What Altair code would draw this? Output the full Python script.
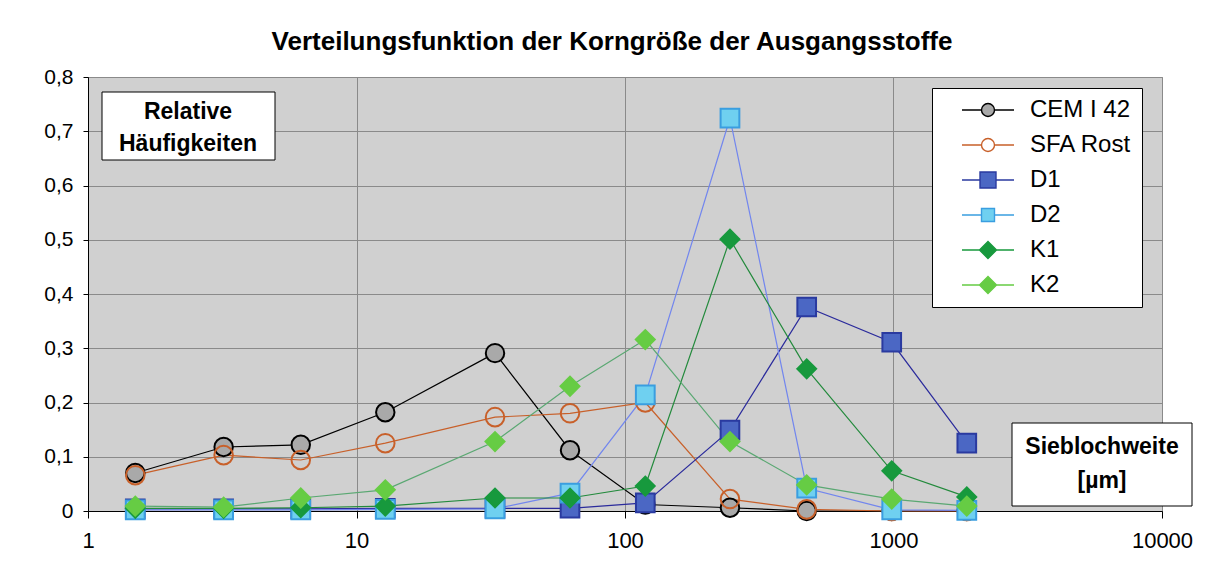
import altair as alt
import pandas as pd

# ---- data ----
sizes = [1.5, 3.2, 6.2, 12.8, 32.8, 62.4, 119, 246, 475, 985, 1875]
series = ["CEM I 42", "SFA Rost", "D1", "D2", "K1", "K2"]
cem = [0.07, 0.118, 0.122, 0.182, 0.291, 0.112, 0.012, 0.006, 0.0, 0.0, 0.0]
sfa = [0.066, 0.103, 0.094, 0.125, 0.173, 0.180, 0.200, 0.022, 0.003, 0.0, 0.0]
d1 = [0.004, 0.004, 0.004, 0.005, 0.005, 0.005, 0.015, 0.149, 0.376, 0.311, 0.125]
d2 = [0.002, 0.002, 0.002, 0.003, 0.004, 0.033, 0.214, 0.724, 0.042, 0.002, 0.001]
k1 = [0.005, 0.005, 0.006, 0.009, 0.024, 0.024, 0.046, 0.501, 0.262, 0.074, 0.026]
k2 = [0.009, 0.007, 0.024, 0.039, 0.128, 0.230, 0.316, 0.128, 0.048, 0.022, 0.009]
values = [cem, sfa, d1, d2, k1, k2]

y_ticks = [0.0, 0.1, 0.2, 0.3, 0.4, 0.5, 0.6, 0.7, 0.8]
x_ticks = [1, 10, 100, 1000, 10000]

title_text = "Verteilungsfunktion der Korngröße der Ausgangsstoffe"
y_label_lines = ["Relative", "Häufigkeiten"]
x_label_lines = ["Sieblochweite", "[µm]"]

# ---- styles ----
line_colors = ["#000000", "#c8602a", "#2b2b9c", "#7286ee", "#238a3c", "#5aa872"]
marker_fill = ["#a9a9a9", "transparent", "#4b67c4", "#6fd0f0", "#17993d", "#66cc44"]
marker_stroke = ["#000000", "#c8602a", "#2a3aa0", "#3a9ee0", "#17993d", "#66cc44"]
marker_shape = ["circle", "circle", "square", "square", "diamond", "diamond"]
marker_size = [340, 360, 470, 170, 380, 480]

circ = "M-0.65,0A0.65,0.65,0,1,1,0.65,0A0.65,0.65,0,1,1,-0.65,0Z"
legend_paths = [
    "M-2.6,0H-0.65M0.65,0H2.6" + circ,
    "M-2.6,0H-0.65M0.65,0H2.6" + circ,
    "M-2.6,0H-0.8M0.8,0H2.6M-0.8,-0.8H0.8V0.8H-0.8Z",
    "M-2.6,0H-0.65M0.65,0H2.6M-0.65,-0.65H0.65V0.65H-0.65Z",
    "M-2.6,0H-0.85M0.85,0H2.6M0,-0.85L0.85,0L0,0.85L-0.85,0Z",
    "M-2.6,0H-0.85M0.85,0H2.6M0,-0.85L0.85,0L0,0.85L-0.85,0Z",
]

rows = []
for i, (name, vals) in enumerate(zip(series, values)):
    for j, (x, v) in enumerate(zip(sizes, vals)):
        rows.append({"Serie": name, "order": i, "idx": j, "x": x, "y": v})
df = pd.DataFrame(rows)

FONT = "Liberation Sans"
W, H = 1074, 434

xenc = alt.X("x:Q", scale=alt.Scale(type="log", domain=[1, 10000], nice=False),
             axis=alt.Axis(values=x_ticks, labelExpr="format(datum.value, 'd')", title=None,
                           grid=True, gridColor="#8a8a8a", gridWidth=1,
                           domainColor="#000000", tickColor="#000000", tickSize=7,
                           labelFontSize=22, labelFont=FONT, labelColor="#000000",
                           labelPadding=12, labelFlush=False))
yenc = alt.Y("y:Q", scale=alt.Scale(domain=[0, 0.8], nice=False, zero=True),
             axis=alt.Axis(values=y_ticks,
                           labelExpr="datum.value == 0 ? '0' : replace(format(datum.value, '.1f'), '.', ',')",
                           title=None, grid=True, gridColor="#8a8a8a", gridWidth=1,
                           domainColor="#000000", tickColor="#000000", tickSize=5,
                           labelFontSize=21, labelFont=FONT, labelColor="#000000",
                           labelPadding=10))

base = alt.Chart(df)

lines = base.mark_line(strokeWidth=1.2).encode(
    x=xenc, y=yenc,
    stroke=alt.Stroke("Serie:N", scale=alt.Scale(domain=series, range=line_colors), legend=None),
    detail="Serie:N",
    order="idx:Q",
)

points = base.mark_point(strokeWidth=2, opacity=1).encode(
    x=xenc, y=yenc,
    shape=alt.Shape("Serie:N", scale=alt.Scale(domain=series, range=marker_shape), legend=None),
    fill=alt.Fill("Serie:N", scale=alt.Scale(domain=series, range=marker_fill), legend=None),
    stroke=alt.Stroke("Serie:N", scale=alt.Scale(domain=series, range=marker_stroke), legend=None),
    size=alt.Size("Serie:N", scale=alt.Scale(domain=series, range=marker_size), legend=None),
    order="order:Q",
)

leg = alt.Legend(title=None, orient="none", legendX=844, legendY=11,
                 fillColor="#ffffff", strokeColor="#000000", padding=10,
                 symbolSize=400, symbolStrokeWidth=1.4, symbolOffset=34, symbolOpacity=1,
                 labelFontSize=24, labelFont=FONT, labelColor="#000000", labelOffset=30,
                 rowPadding=11, labelLimit=300)

legend_layer = base.mark_point(opacity=0, strokeWidth=1.4).encode(
    x=xenc, y=yenc,
    shape=alt.Shape("Serie:N", scale=alt.Scale(domain=series, range=legend_paths), legend=leg),
    fill=alt.Fill("Serie:N", scale=alt.Scale(domain=series, range=marker_fill), legend=leg),
    stroke=alt.Stroke("Serie:N", scale=alt.Scale(domain=series, range=marker_stroke), legend=leg),
)

# annotation boxes (axis captions as in the reference)
box_df = pd.DataFrame({"k": [0]})


def caption_line(text, x, y):
    return alt.Chart(pd.DataFrame({"t": [text]})).mark_text(
        font=FONT, fontSize=23, fontWeight="bold", color="#000000", align="center", baseline="middle"
    ).encode(x=alt.value(x), y=alt.value(y), text="t:N")


box1 = alt.Chart(box_df).mark_rect(fill="#ffffff", stroke="#000000", strokeWidth=1).encode(
    x=alt.value(14), x2=alt.value(187), y=alt.value(15), y2=alt.value(83))
t1a = caption_line(y_label_lines[0], 100, 35)
t1b = caption_line(y_label_lines[1], 100, 67)

box2 = alt.Chart(box_df).mark_rect(fill="#ffffff", stroke="#000000", strokeWidth=1).encode(
    x=alt.value(924), x2=alt.value(1104), y=alt.value(346), y2=alt.value(429))
t2a = caption_line(x_label_lines[0], 1014, 370)
t2b = caption_line(x_label_lines[1], 1014, 404)

chart = alt.layer(lines, points, legend_layer, box1, t1a, t1b, box2, t2a, t2b).resolve_scale(
    shape="independent", fill="independent", stroke="independent", size="independent"
).properties(
    width=W, height=H,
    title=alt.TitleParams(title_text, fontSize=26, fontWeight="bold", font=FONT, color="#000000",
                          anchor="middle", offset=11, dx=-13),
    autosize=alt.AutoSizeParams(type="none"),
    padding={"left": 80, "top": 69, "right": 40, "bottom": 55},
    background="#ffffff",
).configure_view(fill="#d0d0d0", stroke="#8a8a8a", strokeWidth=1)

chart.save("out.html", embed_options={"renderer": "svg", "actions": False})
